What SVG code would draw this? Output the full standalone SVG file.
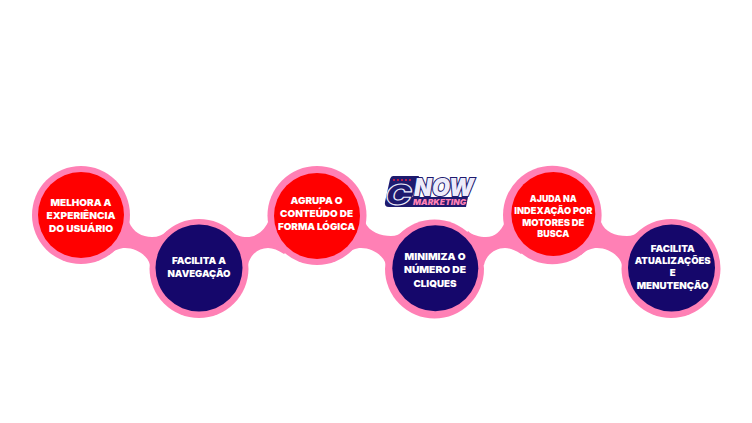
<svg xmlns="http://www.w3.org/2000/svg" width="752" height="423" viewBox="0 0 752 423">
<style>
.band{fill:#ff80b5}
.ring{fill:#ff80b5}
.red{fill:#ff0000}
.navy{fill:#15076b}
.t{font-family:Inter,"Liberation Sans",sans-serif;font-weight:900;font-size:9.6px;fill:#fff;text-anchor:middle}
.logo{font-family:Inter,"Liberation Sans",sans-serif;font-weight:900;font-style:italic}
</style>
<rect width="752" height="423" fill="#fff"/>
<g id="connectors">
<path class="band" d="M129 222C133 232 142 237 152 237C158 237 163 235 167 231L190 262L150 265C148 256 137 248 125 248C120 248 114 250 109 255L100 230Z"/>
<path class="band" d="M231 231C235 235 241 237 247 237C256 237 264 231 268 222L300 240L284 254C278 250 273 248 268 248C258 248 250 255 248 265L210 262Z"/>
<path class="band" d="M365 222C369 232 381 236 391 236C396 236 400 234 404 231L427 262L386 265C384 256 373 248 361 248C356 248 350 250 345 255L336 230Z"/>
<path class="band" d="M468 231C472 235 480 237 486 237C495 237 501 231 505 222L537 240L521 254C515 250 510 248 505 248C495 248 486 255 484 265L447 262Z"/>
<path class="band" d="M601 222C605 232 615 236 627 236C632 236 636 234 640 231L663 262L622 265C620 256 609 248 597 248C592 248 586 250 581 255L572 230Z"/>
</g>
<g id="node-1"><circle class="ring" cx="81" cy="215" r="49"/><circle class="red" cx="81" cy="215" r="43"/>
<text class="t" x="81" y="206.3" textLength="61" lengthAdjust="spacingAndGlyphs">MELHORA A</text><text class="t" x="81" y="219.3" textLength="69" lengthAdjust="spacingAndGlyphs">EXPERIÊNCIA</text><text class="t" x="81" y="232.3" textLength="64" lengthAdjust="spacingAndGlyphs">DO USUÁRIO</text></g>
<g id="node-2"><circle class="ring" cx="199" cy="268.5" r="49.5"/><circle class="navy" cx="199" cy="268" r="43.5"/>
<text class="t" x="199" y="264.3" textLength="54" lengthAdjust="spacingAndGlyphs">FACILITA A</text><text class="t" x="199" y="277" textLength="63" lengthAdjust="spacingAndGlyphs">NAVEGAÇÃO</text></g>
<g id="node-3"><circle class="ring" cx="317" cy="215.5" r="49.5"/><circle class="red" cx="317" cy="216" r="43"/>
<text class="t" x="316.5" y="204.3" textLength="52" lengthAdjust="spacingAndGlyphs">AGRUPA O</text><text class="t" x="316.5" y="216.8" textLength="73" lengthAdjust="spacingAndGlyphs">CONTEÚDO DE</text><text class="t" x="316.5" y="229.7" textLength="77" lengthAdjust="spacingAndGlyphs">FORMA LÓGICA</text></g>
<g id="node-4"><circle class="ring" cx="434.5" cy="269" r="49.5"/><circle class="navy" cx="435.3" cy="268.3" r="43"/>
<text class="t" x="435" y="260.3" textLength="61" lengthAdjust="spacingAndGlyphs">MINIMIZA O</text><text class="t" x="435" y="273.3" textLength="62" lengthAdjust="spacingAndGlyphs">NÚMERO DE</text><text class="t" x="435" y="286.7" textLength="43" lengthAdjust="spacingAndGlyphs">CLIQUES</text></g>
<g id="node-5"><circle class="ring" cx="552.3" cy="215" r="49.3"/><circle class="red" cx="553.3" cy="214" r="42"/>
<text class="t" x="553.3" y="202" textLength="47" lengthAdjust="spacingAndGlyphs">AJUDA NA</text><text class="t" x="553.3" y="214" textLength="78" lengthAdjust="spacingAndGlyphs">INDEXAÇÃO POR</text><text class="t" x="553.3" y="225.7" textLength="62" lengthAdjust="spacingAndGlyphs">MOTORES DE</text><text class="t" x="553.3" y="237.3" textLength="32" lengthAdjust="spacingAndGlyphs">BUSCA</text></g>
<g id="node-6"><circle class="ring" cx="671" cy="268.5" r="49.5"/><circle class="navy" cx="671.5" cy="268" r="43.5"/>
<text class="t" x="672.7" y="252" textLength="44" lengthAdjust="spacingAndGlyphs">FACILITA</text><text class="t" x="672.7" y="264.3" textLength="76" lengthAdjust="spacingAndGlyphs">ATUALIZAÇÕES</text><text class="t" x="672.7" y="276.3">E</text><text class="t" x="672.7" y="289.3" textLength="72" lengthAdjust="spacingAndGlyphs">MENUTENÇÃO</text></g>
<g id="logo">
<path fill="#1e1a6e" d="M393 176H419L412 198L409 207H389Q384 207 385 202L390 179Q391 176 393 176Z"/>
<path fill="#1e1a6e" d="M411 197H468L466 207H408Z"/>
<g fill="#ff1a3c"><circle cx="394" cy="180" r="0.9"/><circle cx="398" cy="180" r="0.9"/><circle cx="402" cy="180" r="0.9"/><circle cx="406" cy="180" r="0.9"/><circle cx="410" cy="180" r="0.9"/></g>
<text class="logo" x="385.5" y="204.5" font-size="29" fill="#1e1a6e" stroke="#ecebfa" stroke-width="1.1" textLength="26" lengthAdjust="spacingAndGlyphs">C</text>
<text class="logo" x="414" y="195.5" font-size="24" fill="#ecebfa" stroke="#1e1a6e" stroke-width="2.2" paint-order="stroke" textLength="60" lengthAdjust="spacingAndGlyphs">NOW</text>
<text class="logo" x="413" y="205.3" font-size="8" fill="#ff80b5" textLength="53" lengthAdjust="spacingAndGlyphs">MARKETING</text>
</g>
</svg>
